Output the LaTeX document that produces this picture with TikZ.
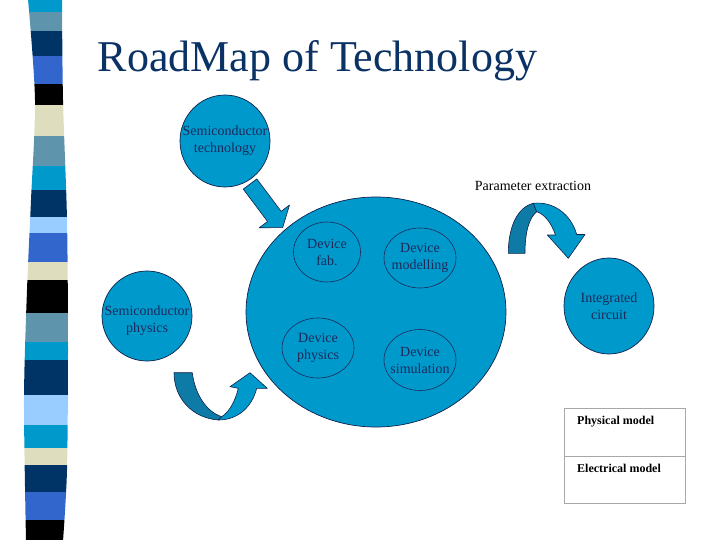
\documentclass[tikz,border=0pt]{standalone}
\usepackage{fontspec}
\setmainfont{Liberation Serif}
\usetikzlibrary{shapes.geometric}
\definecolor{cfill}{HTML}{0099CC}
\definecolor{cdark}{HTML}{0E7BA6}
\definecolor{outl}{HTML}{10204A}
\definecolor{txtc}{HTML}{1F2A5A}
\definecolor{titlec}{HTML}{0B3264}
\definecolor{scyan}{HTML}{0099CC}
\definecolor{ssteel}{HTML}{5E95AD}
\definecolor{snavy}{HTML}{003366}
\definecolor{sroyal}{HTML}{3366CC}
\definecolor{sbeige}{HTML}{DEDEBE}
\definecolor{slight}{HTML}{99CCFF}
\definecolor{boxc}{HTML}{A8A8A8}
\tikzset{
  bubble/.style={ellipse, draw=outl, fill=cfill, line width=0.7pt, inner sep=0pt},
  innerell/.style={ellipse, draw=txtc, line width=0.6pt, inner sep=0pt},
  lbl/.style={align=center, font=\fontsize{14}{17}\selectfont, text=txtc, inner sep=0pt},
  blockarrow/.style={draw=outl, line width=0.6pt, line join=round},
  boxtext/.style={anchor=base west, font=\fontsize{12}{14}\selectfont\bfseries, text=black, inner sep=0pt}
}
\begin{document}
\begin{tikzpicture}[x=1pt,y=-1pt]
\useasboundingbox (0,0) rectangle (720,540);
% left stripe
\begin{scope}
\clip plot[smooth] coordinates {(28,-1) (35,100) (31,200) (27,290) (24,400) (26,541)}
  -- plot[smooth] coordinates {(63,541) (67,470) (68,350) (67,220) (63,100) (62,-1)} -- cycle;
\foreach \ya/\yb/\c in {-2/12/scyan, 12/31/ssteel, 31/56/snavy, 56/84/sroyal, 84/105/black,
  105/136/sbeige, 136/166/ssteel, 166/190/scyan, 190/217/snavy, 217/233/slight,
  233/262/sroyal, 262/280/sbeige, 280/313/black, 313/342/ssteel, 342/360/scyan,
  360/395/snavy, 395/425/slight, 425/448/scyan, 448/465/sbeige, 465/492/snavy,
  492/520/sroyal, 520/542/black}
  \fill[\c] (15,\ya) rectangle (80,\yb);
\end{scope}
% title
\node[anchor=base, font=\fontsize{44}{50}\selectfont, text=titlec, inner sep=0pt] (title) at (317.5,72) {RoadMap of Technology};
% circles
\node[bubble, minimum width=260pt, minimum height=230pt] (big) at (376,312) {};
\node[bubble, minimum width=90pt, minimum height=92pt] (st) at (225,141) {};
\node[lbl] (stl) at ([yshift=0.5pt]st.center) {Semiconductor\\technology};
\node[bubble, minimum width=90pt, minimum height=90pt] (sp) at (147,316) {};
\node[lbl] (spl) at ([yshift=-5pt]sp.center) {Semiconductor\\physics};
\node[bubble, minimum width=90pt, minimum height=96pt] (ic) at (609,306) {};
\node[lbl] (icl) at (ic.center) {Integrated\\circuit};
\node[innerell, minimum width=67pt, minimum height=60pt] (fab) at (327,252) {};
\node[lbl] (fabl) at (fab.center) {Device\\fab.};
\node[innerell, minimum width=72pt, minimum height=60pt] (mod) at (420,258) {};
\node[lbl] (modl) at (mod.center) {Device\\modelling};
\node[innerell, minimum width=72pt, minimum height=60pt] (phy) at (318,348) {};
\node[lbl] (phyl) at (phy.center) {Device\\physics};
\node[innerell, minimum width=72pt, minimum height=61pt] (sim) at (420,360) {};
\node[lbl] (siml) at (sim.center) {Device\\simulation};
% straight arrow
\filldraw[blockarrow, fill=cfill] (256.8,178.9) -- (281.1,211.3) -- (289.5,205.0) -- (282.7,227.6)
  -- (259.1,227.8) -- (267.5,221.5) -- (243.2,189.1) -- cycle;
% parameter extraction arrow
\node[font=\fontsize{14}{17}\selectfont, text=black] (pe) at (533,186) {Parameter extraction};
\filldraw[blockarrow, fill=cdark] (508.3,253.3) -- (525,253.3) .. controls (525,232) and (529,218) .. (536.7,211.7)
  -- (533.3,203.3) .. controls (518,207) and (508.3,226) .. cycle;
\filldraw[blockarrow, fill=cfill] (533.3,203.3) .. controls (553,201) and (571,214) .. (576.7,234.5)
  -- (585,234.5) -- (568.3,258.3) -- (547.3,235) -- (555.5,235)
  .. controls (551,222) and (544,214) .. (536.7,211.7) -- cycle;
% bottom arrow
\filldraw[blockarrow, fill=cdark] (174,372.7) -- (192.3,372.7) .. controls (195,395) and (207,412) .. (221.7,416.7)
  -- (218.3,420) .. controls (192,418) and (174,398) .. cycle;
\filldraw[blockarrow, fill=cfill] (218.3,420) .. controls (238,420) and (252,407) .. (256.7,388.3)
  -- (267.3,388.3) -- (250,372.7) -- (230,386.7) -- (238.3,388.3)
  .. controls (235,402) and (229,412) .. (221.7,416.7) -- cycle;
% model box
\draw[boxc, line width=0.8pt] (564,408) rectangle (685,503);
\draw[boxc, line width=0.8pt] (564,456) -- (685,456);
\node[boxtext] (pm) at (577,424) {Physical model};
\node[boxtext] (em) at (577,472) {Electrical model};
\end{tikzpicture}
\end{document}
